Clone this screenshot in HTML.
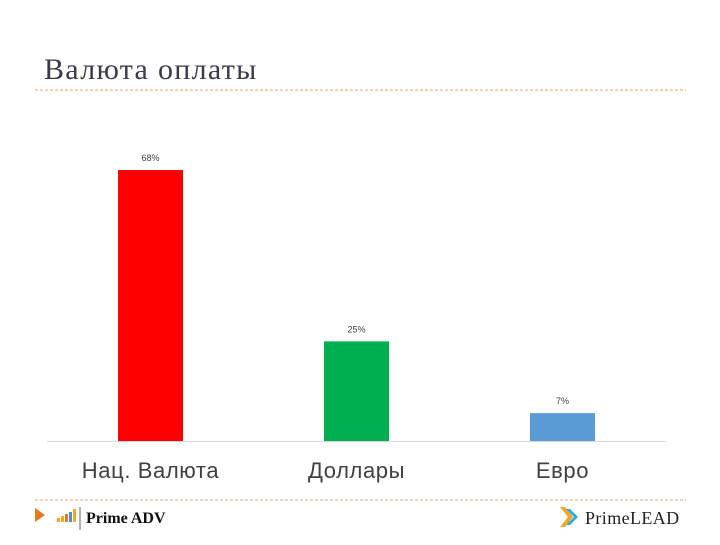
<!DOCTYPE html>
<html><head><meta charset="utf-8"><style>
body{margin:0;width:720px;height:540px;background:#fff;overflow:hidden;font-family:"Liberation Sans",sans-serif}
</style></head><body>
<svg width="720" height="540">
<text x="44" y="79" font-family="Liberation Serif, serif" font-size="30" letter-spacing="1.3" fill="#3a3a4a">Валюта оплаты</text>
<line x1="35" y1="90" x2="686" y2="90" stroke="#e8a070" stroke-dasharray="3,2" stroke-width="1"/>
<line x1="47" y1="441.5" x2="666" y2="441.5" stroke="#d9d9d9"/>
<g id="bars"></g>
<line x1="35" y1="500" x2="686" y2="500" stroke="#e8a070" stroke-dasharray="3,2"/>
<polygon points="35,508 45,515 35,522" fill="#e87722"/>
<g>
<rect x="57" y="518" width="3" height="4" fill="#f5a623"/><rect x="61" y="516" width="3" height="6" fill="#f5a623"/><rect x="65" y="514" width="3" height="8" fill="#e87722"/><rect x="69" y="512" width="3" height="10" fill="#4a90d9"/><rect x="73" y="509" width="3" height="13" fill="#f5a623"/>
<line x1="80" y1="507" x2="80" y2="530" stroke="#666"/>
<text x="86" y="523" font-family="Liberation Serif, serif" font-weight="bold" font-size="16" fill="#111">Prime ADV</text></g>
<g>
<polygon points="560,507 568,517 560,527 565,527 573,517 565,507" fill="#f5a623"/>
<polygon points="566,509 574,517 566,525 570,525 578,517 570,509" fill="#29abe2"/>
<text x="585" y="524" font-family="Liberation Serif, serif" font-size="18" letter-spacing="0.4" fill="#222">PrimeLEAD</text></g>
</svg>
<script>
const categories=["Нац. Валюта","Доллары","Евро"];
const values=[68,25,7];
const labels=["68%","25%","7%"];
const colors=["#ff0000","#00b050","#5b9bd5"];
const g=document.getElementById('bars');
const ns="http://www.w3.org/2000/svg";
const x0=150.5,step=206,base=441,scale=3.985,bw=65;
const xc=i=>x0+i*step, y=v=>base-v*scale;
values.forEach((v,i)=>{
 const r=document.createElementNS(ns,'rect');
 r.setAttribute('x',xc(i)-bw/2);r.setAttribute('y',y(v));r.setAttribute('width',bw);r.setAttribute('height',base-y(v));r.setAttribute('fill',colors[i]);
 
 
 g.appendChild(r);
 const t=document.createElementNS(ns,'text');
 t.setAttribute('x',xc(i));t.setAttribute('y',y(v)-9);t.setAttribute('text-anchor','middle');t.setAttribute('font-size','9');t.setAttribute('fill','#404040');
 t.textContent=labels[i];
 
 
 g.appendChild(t);
 const c=document.createElementNS(ns,'text');
 c.setAttribute('x',xc(i));c.setAttribute('y',478);c.setAttribute('text-anchor','middle');c.setAttribute('font-size','22');c.setAttribute('letter-spacing','0.6');c.setAttribute('fill','#404040');
 c.textContent=categories[i];
 
 
 g.appendChild(c);
});
</script>
</body></html>
